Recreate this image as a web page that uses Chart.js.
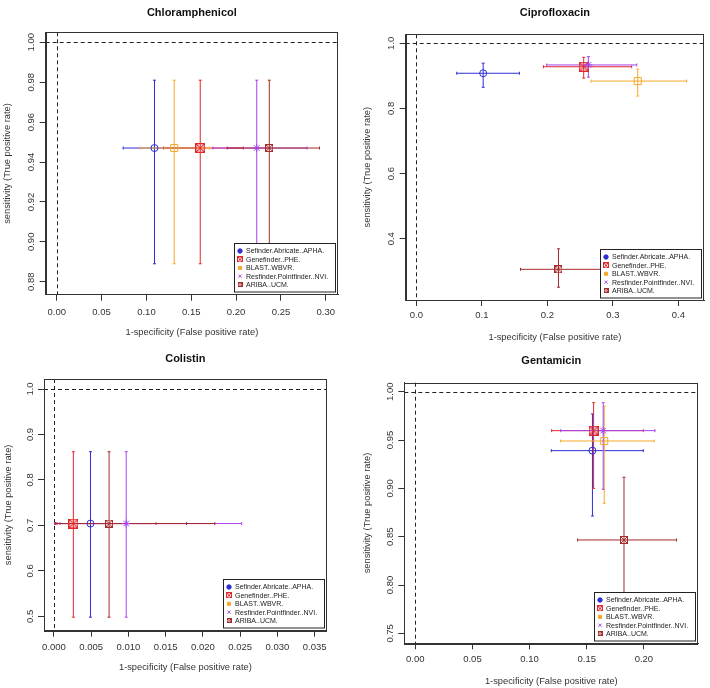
<!DOCTYPE html>
<html>
<head>
<meta charset="utf-8">
<script src="https://cdn.jsdelivr.net/npm/chart.js@4.4.0/dist/chart.umd.min.js"></script>
<style>
  html, body { margin: 0; padding: 0; background: #fff; }
  #grid { position: relative; width: 710px; height: 688px; }
  .panel { position: absolute; width: 355px; height: 344px; }
</style>
</head>
<body>
<div id="grid">
  <div class="panel" style="left:0;top:0"><canvas id="c0" width="355" height="344"></canvas></div>
  <div class="panel" style="left:355px;top:0"><canvas id="c1" width="355" height="344"></canvas></div>
  <div class="panel" style="left:0;top:344px"><canvas id="c2" width="355" height="344"></canvas></div>
  <div class="panel" style="left:355px;top:344px"><canvas id="c3" width="355" height="344"></canvas></div>
</div>
<script>
// methods, same order as the legend
const methods = ['Sefinder.Abricate..APHA.', 'Genefinder..PHE.', 'BLAST..WBVR.', 'Resfinder.Pointfinder..NVI.', 'ARIBA..UCM.'];
const drugs = ['Chloramphenicol', 'Ciprofloxacin', 'Colistin', 'Gentamicin'];

// Chloramphenicol
const chlorFpr   = [0.109, 0.160, 0.131, 0.223, 0.237];
const chlorFprLo = [0.074, 0.119, 0.093, 0.174, 0.190];
const chlorFprHi = [0.155, 0.208, 0.170, 0.279, 0.293];
const chlorSens   = [0.947, 0.947, 0.947, 0.947, 0.947];
const chlorSensLo = [0.889, 0.889, 0.889, 0.889, 0.889];
const chlorSensHi = [0.981, 0.981, 0.981, 0.981, 0.981];

// Ciprofloxacin
const ciproFpr   = [0.102, 0.2555, 0.338, 0.2626, 0.217];
const ciproFprLo = [0.0616, 0.194, 0.2667, 0.199, 0.159];
const ciproFprHi = [0.1573, 0.3288, 0.4128, 0.3365, 0.285];
const ciproSens   = [0.908, 0.928, 0.884, 0.9335, 0.306];
const ciproSensLo = [0.865, 0.893, 0.838, 0.896, 0.251];
const ciproSensHi = [0.939, 0.957, 0.921, 0.959, 0.369];

// Colistin (no BLAST mark visible)
const colFpr   = [0.0049, 0.0026, null, 0.0097, 0.0074];
const colFprLo = [0.0002, 0.0001, null, 0.0008, 0.0004];
const colFprHi = [0.0178, 0.0137, null, 0.0252, 0.0216];
const colSens   = [0.704, 0.704, null, 0.704, 0.704];
const colSensLo = [0.498, 0.498, null, 0.498, 0.498];
const colSensHi = [0.862, 0.862, null, 0.862, 0.862];

// Gentamicin
const gentFpr   = [0.155, 0.156, 0.1653, 0.1644, 0.1826];
const gentFprLo = [0.119, 0.1193, 0.1272, 0.1272, 0.142];
const gentFprHi = [0.1995, 0.1995, 0.209, 0.2097, 0.2286];
const gentSens   = [0.939, 0.9597, 0.949, 0.9597, 0.8466];
const gentSensLo = [0.8714, 0.900, 0.8846, 0.899, 0.775];
const gentSensHi = [0.977, 0.9886, 0.985, 0.9886, 0.9115];

// tick labels
const chlorXTicks = ['0.00', '0.05', '0.10', '0.15', '0.20', '0.25', '0.30'];
const chlorYTicks = ['0.88', '0.90', '0.92', '0.94', '0.96', '0.98', '1.00'];
const ciproXTicks = ['0.0', '0.1', '0.2', '0.3', '0.4'];
const ciproYTicks = ['0.4', '0.6', '0.8', '1.0'];
const colXTicks = ['0.000', '0.005', '0.010', '0.015', '0.020', '0.025', '0.030', '0.035'];
const colYTicks = ['0.5', '0.6', '0.7', '0.8', '0.9', '1.0'];
const gentXTicks = ['0.00', '0.05', '0.10', '0.15', '0.20'];
const gentYTicks = ['0.75', '0.80', '0.85', '0.90', '0.95', '1.00'];

const FONT = '"Liberation Sans", Arial, sans-serif';
Chart.defaults.font.family = FONT;
const colors = ['#2e2ed6', '#e3262b', '#f5a82a', '#a544ee', '#a52a2a'];

// R-like symbols drawn into small canvases
function boxX(color, size, lw) {
  const c = document.createElement('canvas');
  c.width = c.height = size;
  const g = c.getContext('2d');
  g.strokeStyle = color; g.lineWidth = lw;
  const m = lw / 2, s = size - lw;
  g.strokeRect(m, m, s, s);
  g.beginPath();
  g.moveTo(m, m); g.lineTo(m + s, m + s);
  g.moveTo(m + s, m); g.lineTo(m, m + s);
  g.stroke();
  return c;
}
const markerStyles = ['circle', boxX(colors[1], 10, 1.3), 'rect', 'star', boxX(colors[4], 8, 1)];
const markerRadius = [3.5, 5, 5, 4, 4];
const legendStyles = ['circle', boxX(colors[1], 6, 1), 'rect', 'crossRot', boxX(colors[4], 5, 1)];

// per-panel geometry (canvas 355 x 344)
const panels = [
  { title: drugs[0], fpr: chlorFpr, fprLo: chlorFprLo, fprHi: chlorFprHi, sens: chlorSens, sensLo: chlorSensLo, sensHi: chlorSensHi,
    xt: chlorXTicks, yt: chlorYTicks, xr: [-0.0123, 0.3136], yr: [0.8735, 1.005],
    L: 45.7, R: 338, B: 294.7, tTop: 6.4, tBot: 12.7, xPad: 5.6, xTitlePad: 6.3, yTitlePad: 2.3 },
  { title: drugs[1], fpr: ciproFpr, fprLo: ciproFprLo, fprHi: ciproFprHi, sens: ciproSens, sensLo: ciproSensLo, sensHi: ciproSensHi,
    xt: ciproXTicks, yt: ciproYTicks, xr: [-0.0163, 0.4392], yr: [0.2118, 1.0276],
    L: 50.7, R: 349, B: 300, tTop: 6.7, tBot: 14.4, xPad: 3.3, xTitlePad: 0.5, yTitlePad: 6.6 },
  { title: drugs[2], fpr: colFpr, fprLo: colFprLo, fprHi: colFprHi, sens: colSens, sensLo: colSensLo, sensHi: colSensHi,
    xt: colXTicks, yt: colYTicks, xr: [-0.00134, 0.03662], yr: [0.4683, 1.022],
    L: 44, R: 326.7, B: 286.7, tTop: 8.4, tBot: 13.4, xPad: 4.9, xTitlePad: 15, yTitlePad: 2.6 },
  { title: drugs[3], fpr: gentFpr, fprLo: gentFprLo, fprHi: gentFprHi, sens: gentSens, sensLo: gentSensLo, sensHi: gentSensHi,
    xt: gentXTicks, yt: gentYTicks, xr: [-0.0096, 0.2476], yr: [0.7397, 1.0093],
    L: 49.3, R: 343.3, B: 299.3, tTop: 10.1, tBot: 15.4, xPad: 4, xTitlePad: 0.5, yTitlePad: 6.6 }
];

// box, dashed reference lines, rotated y labels, legend inside the plot
const rPlot = {
  id: 'rplot',
  beforeDatasetsDraw(chart) {
    const { ctx, chartArea: a, scales: { x, y } } = chart;
    ctx.save();
    ctx.strokeStyle = '#222';
    ctx.lineWidth = 1;
    ctx.setLineDash([4, 3]);
    const x0 = Math.round(x.getPixelForValue(0)) + 0.5;
    const y1 = Math.round(y.getPixelForValue(1)) + 0.5;
    ctx.beginPath();
    ctx.moveTo(x0, a.top); ctx.lineTo(x0, a.bottom);
    ctx.moveTo(a.left, y1); ctx.lineTo(a.right, y1);
    ctx.stroke();
    ctx.restore();
  },
  afterDatasetsDraw(chart, args, opts) {
    const { ctx, chartArea: a, scales: { y } } = chart;
    ctx.save();
    ctx.strokeStyle = '#333';
    ctx.lineWidth = 1;
    ctx.strokeRect(Math.round(a.left) + 0.5, Math.round(a.top) + 0.5, Math.round(a.width) - 1, Math.round(a.height));

    // y tick labels, rotated like R's las=0
    ctx.font = '9.5px ' + FONT;
    ctx.fillStyle = '#333';
    ctx.textAlign = 'center';
    ctx.textBaseline = 'middle';
    opts.yt.forEach(s => {
      ctx.save();
      ctx.translate(a.left - 14, y.getPixelForValue(parseFloat(s)));
      ctx.rotate(-Math.PI / 2);
      ctx.fillText(s, 0, 0);
      ctx.restore();
    });

    // legend
    const w = 101, h = 48.5, rowH = 8.4;
    const bx = Math.round(a.right - 3 - w) + 0.5, by = Math.round(a.bottom - 3 - h) + 0.5;
    ctx.fillStyle = '#fff';
    ctx.fillRect(bx, by, w, h);
    ctx.strokeStyle = '#222';
    ctx.strokeRect(bx, by, w, h);
    ctx.font = '7px ' + FONT;
    ctx.textAlign = 'left';
    methods.forEach((name, i) => {
      const cy = by + 7.5 + rowH * i;
      ctx.fillStyle = colors[i];
      ctx.strokeStyle = colors[i];
      Chart.helpers.drawPoint(ctx, { pointStyle: legendStyles[i], radius: 2.2, rotation: 0, borderWidth: 1 }, bx + 5.5, cy);
      ctx.fillStyle = '#222';
      ctx.fillText(name, bx + 11.5, cy + 0.5);
    });
    ctx.restore();
  }
};

function buildDatasets(p) {
  const sets = [];
  methods.forEach((name, i) => {
    if (p.fpr[i] == null) return;
    const col = colors[i];
    sets.push({
      label: name, data: [{ x: p.fpr[i], y: p.sens[i] }],
      pointStyle: markerStyles[i], pointRadius: markerRadius[i], pointBorderWidth: 1,
      borderColor: col, backgroundColor: 'rgba(0,0,0,0)', order: 10 - i
    });
    sets.push({
      label: name + ' fpr', data: [{ x: p.fprLo[i], y: p.sens[i] }, { x: p.fprHi[i], y: p.sens[i] }],
      showLine: true, borderColor: col, borderWidth: 1,
      pointStyle: 'line', pointRotation: 90, pointRadius: 1.5, pointBorderColor: col, pointBorderWidth: 1,
      order: 100 - i
    });
    sets.push({
      label: name + ' sens', data: [{ x: p.fpr[i], y: p.sensLo[i] }, { x: p.fpr[i], y: p.sensHi[i] }],
      showLine: true, borderColor: col, borderWidth: 1,
      pointStyle: 'line', pointRotation: 0, pointRadius: 1.5, pointBorderColor: col, pointBorderWidth: 1,
      order: 100 - i
    });
  });
  return sets;
}

panels.forEach((p, k) => {
  const xv = p.xt.map(parseFloat), yv = p.yt.map(parseFloat);
  new Chart(document.getElementById('c' + k), {
    type: 'scatter',
    data: { datasets: buildDatasets(p) },
    plugins: [rPlot],
    options: {
      responsive: false,
      animation: false,
      events: [],
      layout: { padding: { left: 0, top: 0, bottom: 0, right: 355 - p.R } },
      plugins: {
        legend: { display: false },
        tooltip: { enabled: false },
        title: {
          display: true, text: p.title, fullSize: false, color: '#111',
          font: { size: 11, weight: 'bold' }, padding: { top: p.tTop, bottom: p.tBot }
        },
        rplot: { yt: p.yt }
      },
      scales: {
        x: {
          type: 'linear', min: p.xr[0], max: p.xr[1],
          afterBuildTicks: s => { s.ticks = xv.map(v => ({ value: v })); },
          afterFit: s => { s.height = 344 - p.B; },
          grid: { drawOnChartArea: false, drawTicks: true, tickLength: 6, color: '#333' },
          border: { display: true, color: '#333' },
          ticks: { color: '#333', font: { size: 9.5 }, padding: p.xPad, maxRotation: 0, autoSkip: false,
                   callback: (v, i) => p.xt[i] },
          title: { display: true, text: '1-specificity (False positive rate)', color: '#333',
                   font: { size: 9.3 }, padding: { top: 0, bottom: p.xTitlePad } }
        },
        y: {
          type: 'linear', min: p.yr[0], max: p.yr[1],
          afterBuildTicks: s => { s.ticks = yv.map(v => ({ value: v })); },
          afterFit: s => { s.width = p.L; },
          grid: { drawOnChartArea: false, drawTicks: true, tickLength: 6, color: '#333' },
          border: { display: true, color: '#333' },
          ticks: { display: false },
          title: { display: true, text: 'sensitivity (True positive rate)', color: '#333',
                   font: { size: 9.3 }, padding: { top: p.yTitlePad, bottom: 0 } }
        }
      }
    }
  });
});
</script>
</body>
</html>
